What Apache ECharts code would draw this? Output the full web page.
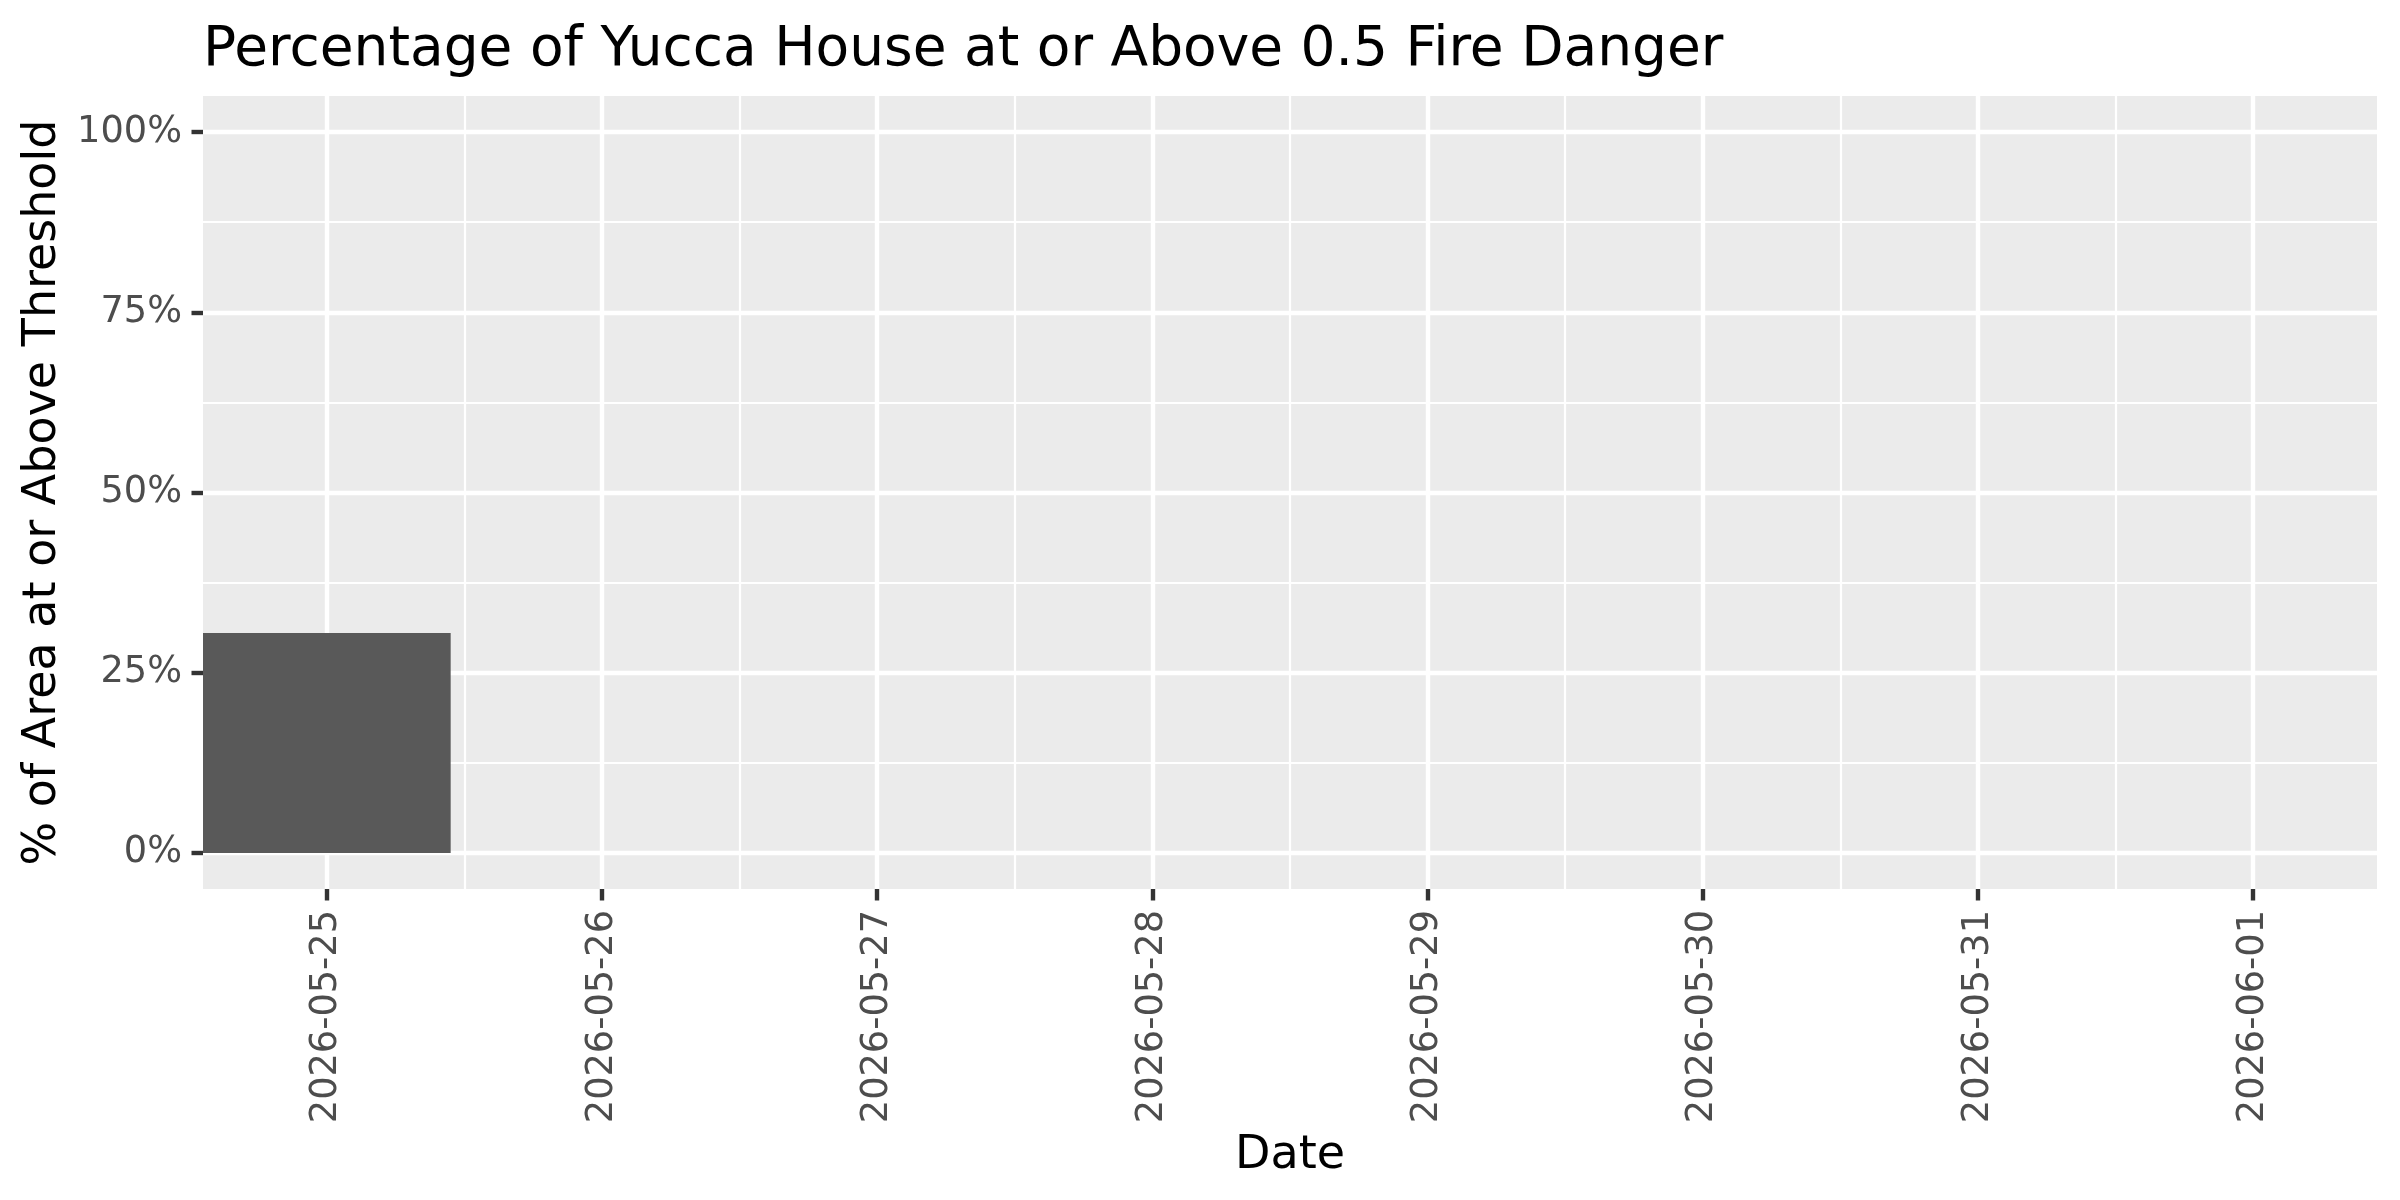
<!DOCTYPE html>
<html>
<head>
<meta charset="utf-8">
<script src="https://cdn.jsdelivr.net/npm/echarts@6.0.0/dist/echarts.min.js"></script>
<style>
  html, body { margin: 0; padding: 0; background: #ffffff; }
  #chart-container { width: 2400px; height: 1200px; }
</style>
</head>
<body>
<div id="chart-container"></div>
<script>
// data
const dates = ["2026-05-25", "2026-05-26", "2026-05-27", "2026-05-28",
               "2026-05-29", "2026-05-30", "2026-05-31", "2026-06-01"];
const pctAbove = [0.305, 0, 0, 0, 0, 0, 0, 0];
const yTicks = [0, 0.25, 0.5, 0.75, 1];
const yMinorTicks = [0.125, 0.375, 0.625, 0.875];

const xTicks = dates.map((d, i) => i);
const xMinorTicks = dates.slice(1).map((d, i) => i + 0.5);

const FONT = "DejaVu Sans";
const chart = echarts.init(document.getElementById("chart-container"));

// minor grid lines come from a second, otherwise invisible axis
const hiddenAxisBits = {
  axisLine: { show: false, onZero: false },
  axisTick: { show: false },
  axisLabel: { show: false }
};

const option = {
  backgroundColor: "#ffffff",
  animation: false,
  textStyle: { fontFamily: FONT },
  title: {
    text: "Percentage of Yucca House at or Above 0.5 Fire Danger",
    left: 198,
    top: 18,
    textStyle: { fontFamily: FONT, fontSize: 55, fontWeight: "normal", color: "#000000" }
  },
  grid: {
    left: 203, right: 23, top: 96, bottom: 311,
    show: true, backgroundColor: "#EBEBEB", borderWidth: 0
  },
  xAxis: [
    {
      type: "value",
      min: -0.45,
      max: 7.45,
      name: "Date",
      nameLocation: "middle",
      nameGap: 244,
      nameTextStyle: { fontFamily: FONT, fontSize: 46, color: "#000000" },
      axisLine: { show: false, onZero: false },
      axisTick: {
        show: true, customValues: xTicks, length: 11.5,
        lineStyle: { color: "#333333", width: 4.4 }
      },
      axisLabel: {
        show: true, customValues: xTicks, rotate: 90, margin: 21,
        fontFamily: FONT, fontSize: 36.7, color: "#4D4D4D",
        formatter: v => dates[Math.round(v)]
      },
      splitLine: { show: true, lineStyle: { color: "#ffffff", width: 4.4 } },
      minorSplitLine: { show: false }
    },
    Object.assign({
      type: "value", min: -0.45, max: 7.45, gridIndex: 0,
      splitLine: { show: true, lineStyle: { color: "#ffffff", width: 2.2 } }
    }, hiddenAxisBits, {
      axisTick: { show: false, customValues: xMinorTicks },
      axisLabel: { show: false, customValues: xMinorTicks }
    })
  ],
  yAxis: [
    {
      type: "value",
      min: -0.05,
      max: 1.05,
      name: "% of Area at or Above Threshold",
      nameLocation: "middle",
      nameRotate: 90,
      nameGap: 136,
      nameTextStyle: { fontFamily: FONT, fontSize: 46, color: "#000000" },
      axisLine: { show: false, onZero: false },
      axisTick: {
        show: true, customValues: yTicks, length: 11.5,
        lineStyle: { color: "#333333", width: 4.4 }
      },
      axisLabel: {
        show: true, customValues: yTicks, margin: 21,
        fontFamily: FONT, fontSize: 36.7, color: "#4D4D4D",
        formatter: v => Math.round(v * 100) + "%"
      },
      splitLine: { show: true, lineStyle: { color: "#ffffff", width: 4.4 } }
    },
    Object.assign({
      type: "value", min: -0.05, max: 1.05, gridIndex: 0,
      splitLine: { show: true, lineStyle: { color: "#ffffff", width: 2.2 } }
    }, hiddenAxisBits, {
      axisTick: { show: false, customValues: yMinorTicks },
      axisLabel: { show: false, customValues: yMinorTicks }
    })
  ],
  series: [
    {
      type: "custom",
      xAxisIndex: 0,
      yAxisIndex: 0,
      data: pctAbove.map((v, i) => [i, v]),
      renderItem: (params, api) => {
        const x = api.value(0);
        const y = api.value(1);
        const topLeft = api.coord([x - 0.45, y]);
        const bottomRight = api.coord([x + 0.45, 0]);
        return {
          type: "rect",
          shape: {
            x: topLeft[0], y: topLeft[1],
            width: bottomRight[0] - topLeft[0],
            height: bottomRight[1] - topLeft[1]
          },
          style: { fill: "#595959" }
        };
      }
    }
  ]
};

chart.setOption(option);
</script>
</body>
</html>
